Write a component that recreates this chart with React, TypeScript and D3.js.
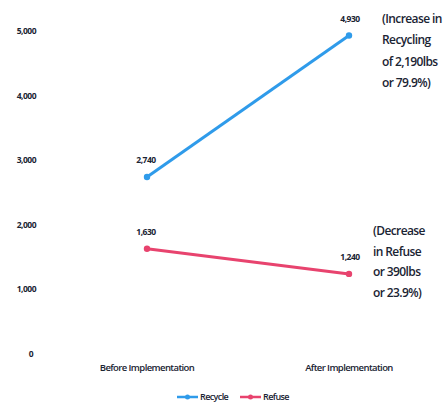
import React from "react";
import * as d3 from "d3";

const categories = ["Before Implementation", "After Implementation"];
const recycle = [2740, 4930];
const refuse = [1630, 1240];
const yTicks = [0, 1000, 2000, 3000, 4000, 5000];
const seriesNames = ["Recycle", "Refuse"];
const recycleNote = ["(Increase in", "Recycling", "of 2,190lbs", "or 79.9%)"];
const refuseNote = ["(Decrease", "in Refuse", "or 390lbs", "or 23.9%)"];

const W = 447;
const H = 408;
const BLUE = "#2F9BEA";
const PINK = "#E8436E";
const TEXT = "#1a2433";
const FONT = "'Open Sans', 'Liberation Sans', sans-serif";

export default function App() {
  const x = d3.scalePoint<string>().domain(categories).range([147, 349]);
  const y = d3.scaleLinear().domain([0, 5000]).range([354, 31]);
  const fmt = d3.format(",");
  const line = d3
    .line<number>()
    .x((_, i) => x(categories[i]) as number)
    .y((d) => y(d));

  const series = [
    { name: seriesNames[0], values: recycle, color: BLUE },
    { name: seriesNames[1], values: refuse, color: PINK },
  ];

  return (
    <svg
      width={W}
      height={H}
      style={{ position: "absolute", left: 0, top: 0, background: "#fff" }}
      fontFamily={FONT}
    >
      {yTicks.map((t) => (
        <text
          key={t}
          x={t === 0 ? 33 : 36}
          y={y(t)}
          dy="0.35em"
          textAnchor="end"
          fontSize={8.5}
          fontWeight={700}
          fill={TEXT}
          letterSpacing={-0.5}
        >
          {fmt(t)}
        </text>
      ))}

      {categories.map((c) => (
        <text
          key={c}
          x={x(c)}
          y={371}
          textAnchor="middle"
          fontSize={9.5}
          fontWeight={600}
          fill={TEXT}
          letterSpacing={-0.6}
        >
          {c}
        </text>
      ))}

      {series.map((s) => (
        <g key={s.name}>
          <path d={line(s.values) || ""} fill="none" stroke={s.color} strokeWidth={3} />
          {s.values.map((v, i) => (
            <g key={i}>
              <circle cx={x(categories[i])} cy={y(v)} r={3.2} fill={s.color} />
              <text
                x={(x(categories[i]) as number) + (i === 0 ? -1 : 1)}
                y={y(v) - 14}
                textAnchor="middle"
                fontSize={8.5}
                fontWeight={700}
                fill={TEXT}
                letterSpacing={-0.5}
              >
                {fmt(v)}
              </text>
            </g>
          ))}
        </g>
      ))}

      {recycleNote.map((t, i) => (
        <text
          key={t}
          x={382}
          y={23 + i * 21.3}
          fontSize={12}
          fontWeight={600}
          fill={TEXT}
          letterSpacing={-0.6}
        >
          {t}
        </text>
      ))}
      {refuseNote.map((t, i) => (
        <text
          key={t}
          x={373}
          y={235 + i * 20.5}
          fontSize={12}
          fontWeight={600}
          fill={TEXT}
          letterSpacing={-0.6}
        >
          {t}
        </text>
      ))}

      {series.map((s, i) => {
        const lx = i === 0 ? 177 : 240;
        const ly = 397;
        return (
          <g key={s.name}>
            <line x1={lx} x2={lx + 21} y1={ly} y2={ly} stroke={s.color} strokeWidth={2.5} />
            <circle cx={lx + 10.5} cy={ly} r={2.5} fill={s.color} />
            <text
              x={lx + 23}
              y={ly}
              dy="0.35em"
              fontSize={9}
              fontWeight={600}
              fill={TEXT}
              letterSpacing={-0.6}
            >
              {s.name}
            </text>
          </g>
        );
      })}
    </svg>
  );
}
